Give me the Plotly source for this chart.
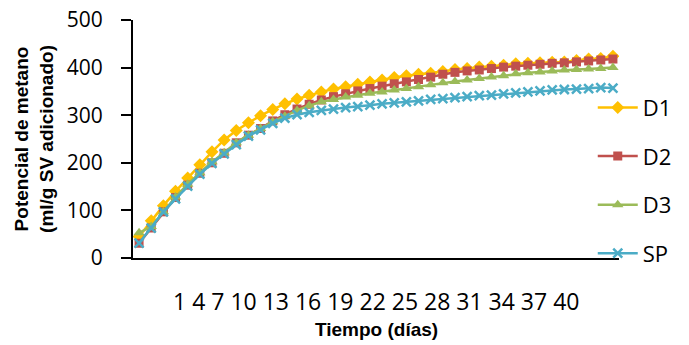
import plotly.graph_objects as go

days = list(range(1, 41))
tick_labels = [1, 4, 7, 10, 13, 16, 19, 22, 25, 28, 31, 34, 37, 40]
y_ticks = [0, 100, 200, 300, 400, 500]

d1 = [45, 78, 110, 140, 168, 196, 223, 248, 268, 284, 299, 312, 324, 334, 342, 349, 355, 360, 365, 370,
      374, 379, 383, 386, 388, 392, 396, 398, 401, 403, 405, 408, 409, 410, 411, 412, 415, 418, 419, 424]
d2 = [31, 63, 97, 127, 153, 178, 200, 220, 242, 258, 272, 288, 301, 313, 323, 332, 339, 345, 351, 356,
      361, 366, 370, 375, 380, 386, 390, 393, 395, 398, 401, 403, 405, 407, 409, 410, 412, 414, 416, 418]
d3 = [53, 66, 97, 128, 155, 179, 202, 221, 242, 258, 272, 286, 298, 310, 320, 328, 333, 338, 342, 346,
      349, 353, 356, 360, 364, 368, 371, 374, 377, 380, 383, 387, 389, 391, 393, 395, 396, 397, 398, 400]
sp = [31, 63, 97, 124, 151, 176, 199, 219, 238, 256, 269, 283, 294, 301, 306, 310, 313, 316, 318, 321,
      324, 326, 328, 330, 333, 335, 337, 339, 341, 342, 345, 347, 349, 351, 353, 354, 355, 356, 358, 357]

series = [
    ("D1", d1, "#FFC000", "diamond", 10),
    ("D2", d2, "#C0504D", "square", 9),
    ("D3", d3, "#9BBB59", "triangle-up", 10),
    ("SP", sp, "#4BACC6", "x-thin-open", 9),
]

fig = go.Figure()
for name, vals, color, sym, size in series:
    marker = dict(symbol=sym, size=size, color=color)
    if sym == "x-thin-open":
        marker["line"] = dict(color=color, width=2.5)
    fig.add_trace(go.Scatter(
        x=days, y=vals, name=name, mode="lines+markers",
        line=dict(color=color, width=2.5), marker=marker,
        legendgroup=name,
    ))

fig.add_annotation(
    text=" ".join(str(t) for t in tick_labels),
    xref="paper", yref="paper", x=0.5, y=-0.18, xanchor="center", yanchor="middle",
    showarrow=False, font=dict(family="Open Sans", size=23, color="#000000"),
)
fig.add_annotation(
    text="<b>Tiempo (días)</b>",
    xref="paper", yref="paper", x=0.5, y=-0.3, xanchor="center", yanchor="middle",
    showarrow=False, font=dict(family="Liberation Sans", size=19, color="#000000"),
)

fig.update_layout(
    width=689, height=345,
    margin=dict(l=133, r=67, t=20, b=87),
    paper_bgcolor="white", plot_bgcolor="white",
    font=dict(family="Open Sans", color="#000000"),
    showlegend=True,
    legend=dict(x=0.946, y=0.72, xanchor="left", yanchor="top", bgcolor="rgba(0,0,0,0)",
                font=dict(family="Open Sans", size=22), tracegroupgap=17, itemwidth=40),
    xaxis=dict(range=[0.5, 40.5], showticklabels=False, ticks="", showgrid=False, zeroline=False,
               showline=True, linecolor="#000000", linewidth=2, automargin=False),
    yaxis=dict(range=[0, 500], tickvals=y_ticks, ticks="outside", ticklen=10, tickwidth=2,
               tickcolor="#000000", showgrid=False, zeroline=False, showline=True,
               linecolor="#000000", linewidth=2, ticklabelstandoff=14, automargin=False,
               tickfont=dict(family="Open Sans", size=21),
               title=dict(text="<b>Potencial de metano<br>(ml/g SV adicionado)</b>", standoff=8,
                          font=dict(family="Liberation Sans", size=19))),
)

fig.write_html("out.html")
